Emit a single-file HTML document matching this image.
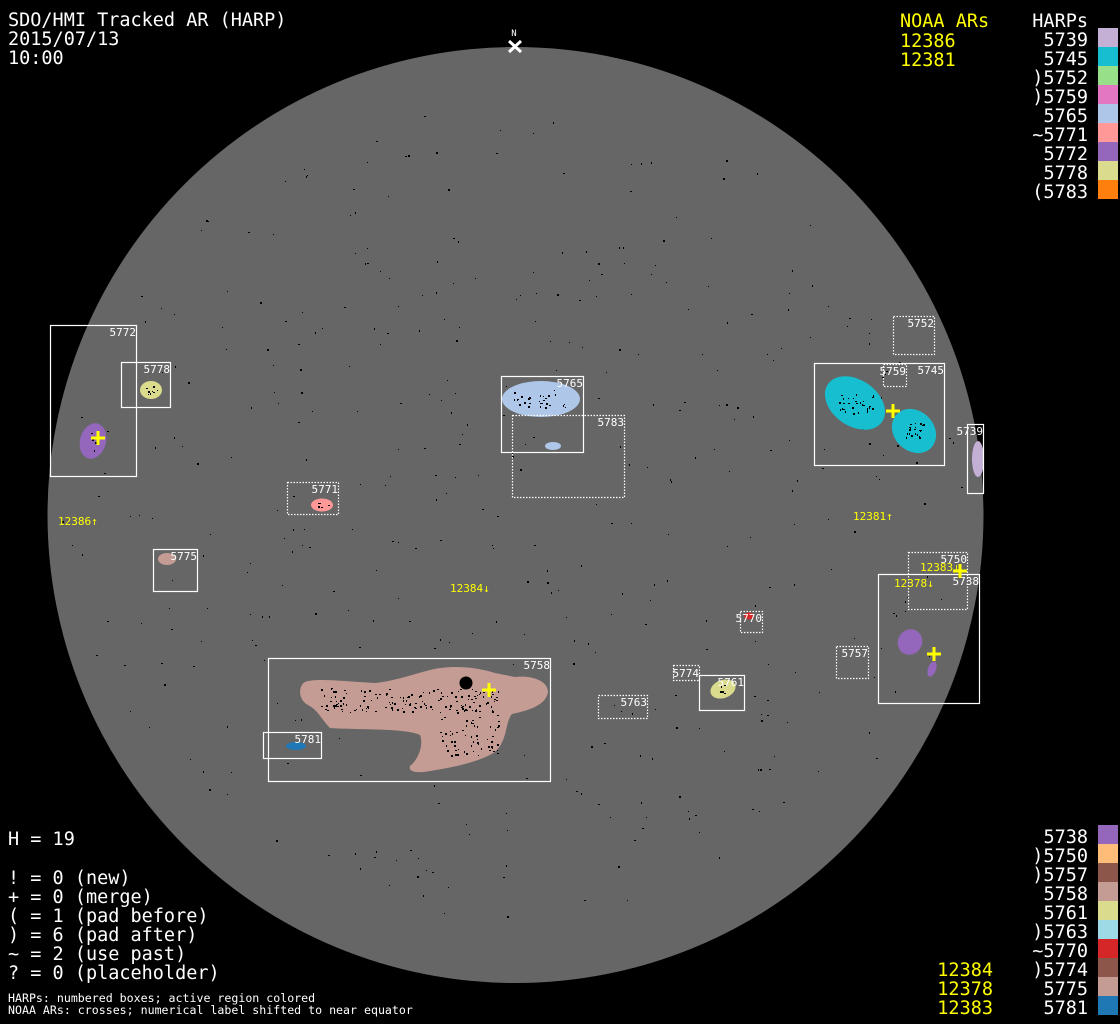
<!DOCTYPE html>
<html><head><meta charset="utf-8"><style>
html,body{margin:0;padding:0;background:#000;width:1120px;height:1024px;overflow:hidden}
svg{display:block}
text{font-family:"DejaVu Sans Mono","Liberation Mono",monospace}
.t{fill:#fff;font-size:18.5px}
.y{fill:#ff0;font-size:18.5px}
.l{fill:#fff;font-size:11px}
.s{fill:#ff0;font-size:11px}
.b{fill:none;stroke:#fff;stroke-width:1.2}
.d{fill:none;stroke:#fff;stroke-width:1.2;stroke-dasharray:1.5 1.5}
.c{stroke:#ff0;stroke-width:3}
</style></head><body>
<svg id="s" width="1120" height="1024" viewBox="0 0 1120 1024" xmlns="http://www.w3.org/2000/svg">
<rect width="1120" height="1024" fill="#000"/>
<circle cx="515.5" cy="515" r="468" fill="#666"/>
<g id="dots"></g>
<ellipse cx="93" cy="441" rx="13" ry="18" transform="rotate(15 93 441)" fill="#9467bd"/>
<ellipse cx="151" cy="390" rx="11" ry="9" fill="#dbdb8d"/>
<ellipse cx="322" cy="505" rx="11" ry="6.5" fill="#ff9896"/>
<ellipse cx="167" cy="559" rx="9" ry="6" fill="#c49c94"/>
<ellipse cx="541" cy="399" rx="39" ry="18" fill="#aec7e8"/>
<ellipse cx="553" cy="446" rx="8" ry="4" fill="#aec7e8"/>
<ellipse cx="855" cy="403" rx="33" ry="23" transform="rotate(35 855 403)" fill="#17becf"/>
<ellipse cx="914" cy="431" rx="24" ry="20" transform="rotate(45 914 431)" fill="#17becf"/>
<ellipse cx="978" cy="459" rx="6" ry="18" fill="#c5b0d5"/>
<ellipse cx="910" cy="642" rx="12" ry="13" transform="rotate(30 910 642)" fill="#9467bd"/>
<ellipse cx="932" cy="669" rx="4" ry="8" transform="rotate(20 932 669)" fill="#9467bd"/>
<ellipse cx="723" cy="689" rx="13" ry="9" transform="rotate(-20 723 689)" fill="#dbdb8d"/>
<ellipse cx="749" cy="616" rx="5" ry="3.5" fill="#d62728"/>
<ellipse cx="296" cy="746" rx="10" ry="4" fill="#1f77b4"/>
<path d="M305,682 C315,678 340,681 375,683 C395,681 410,675 430,670 C445,666 470,665 495,673 L515,677 C530,675 548,680 548,692 C546,705 530,710 512,714 C505,722 508,740 495,752 C480,762 450,768 430,771 C420,773 408,773 410,766 C418,760 424,745 420,735 C405,728 360,730 330,728 C322,720 318,710 308,705 C298,700 298,686 305,682 Z" fill="#c49c94"/>
<circle cx="466" cy="683" r="6.5" fill="#000"/>
<g id="bd"></g>
<rect class="b" x="50.5" y="325.5" width="86" height="151"/>
<rect class="b" x="121.5" y="362.5" width="49" height="45"/>
<rect class="d" x="287.5" y="482.5" width="51" height="32"/>
<rect class="b" x="153.5" y="549.5" width="44" height="42"/>
<rect class="b" x="501.5" y="376.5" width="82" height="76"/>
<rect class="d" x="512.5" y="415.5" width="112" height="82"/>
<rect class="d" x="893.5" y="316.5" width="41" height="38"/>
<rect class="b" x="814.5" y="363.5" width="130" height="102"/>
<rect class="d" x="883.5" y="364.5" width="23" height="22"/>
<rect class="b" x="967.5" y="424.5" width="16" height="69"/>
<rect class="d" x="908.5" y="552.5" width="59" height="57"/>
<rect class="b" x="878.5" y="574.5" width="101" height="129"/>
<rect class="d" x="836.5" y="646.5" width="32" height="32"/>
<rect class="b" x="268.5" y="658.5" width="282" height="123"/>
<rect class="b" x="263.5" y="732.5" width="58" height="26"/>
<rect class="d" x="598.5" y="695.5" width="49" height="23"/>
<rect class="d" x="673.5" y="665.5" width="26" height="15"/>
<rect class="b" x="699.5" y="675.5" width="45" height="35"/>
<rect class="d" x="740.5" y="611.5" width="22" height="21"/>
<g class="l" text-anchor="end">
<text x="136" y="336">5772</text><text x="170" y="373">5778</text><text x="338" y="493">5771</text>
<text x="197" y="560">5775</text><text x="583" y="387">5765</text><text x="624" y="426">5783</text>
<text x="934" y="327">5752</text><text x="944" y="374">5745</text><text x="906" y="375">5759</text>
<text x="983" y="435">5739</text><text x="967" y="563">5750</text><text x="979" y="585">5738</text>
<text x="868" y="657">5757</text><text x="550" y="669">5758</text><text x="321" y="743">5781</text>
<text x="647" y="706">5763</text><text x="699" y="677">5774</text><text x="744" y="686">5761</text>
<text x="762" y="622">5770</text>
</g>
<g class="s">
<text x="58" y="525">12386↑</text><text x="853" y="520">12381↑</text><text x="450" y="592">12384↓</text>
<text x="920" y="571">12383↓</text><text x="894" y="587">12378↓</text>
</g>
<g class="c">
<path d="M91,438h14M98,431v14"/><path d="M886,411h14M893,404v14"/><path d="M482,690h14M489,683v14"/>
<path d="M927,654h14M934,647v14"/><path d="M953,571h14M960,564v14"/>
</g>
<text x="514" y="36" fill="#fff" font-size="9" text-anchor="middle">N</text>
<path d="M509,41l12,11M521,41l-12,11" stroke="#fff" stroke-width="3"/>
<text class="t" x="8" y="26">SDO/HMI Tracked AR (HARP)</text>
<text class="t" x="8" y="45">2015/07/13</text>
<text class="t" x="8" y="64">10:00</text>
<text class="y" x="900" y="27">NOAA ARs</text>
<text class="y" x="900" y="47">12386</text>
<text class="y" x="900" y="66">12381</text>
<g class="t" text-anchor="end">
<text x="1088" y="27">HARPs</text>
<text x="1088" y="46">5739</text><text x="1088" y="65">5745</text><text x="1088" y="84">)5752</text>
<text x="1088" y="103">)5759</text><text x="1088" y="122">5765</text><text x="1088" y="141">~5771</text>
<text x="1088" y="160">5772</text><text x="1088" y="179">5778</text><text x="1088" y="198">(5783</text>
</g>
<rect x="1098" y="28" width="20" height="19" fill="#c5b0d5"/><rect x="1098" y="47" width="20" height="19" fill="#17becf"/>
<rect x="1098" y="66" width="20" height="19" fill="#98df8a"/><rect x="1098" y="85" width="20" height="19" fill="#e377c2"/>
<rect x="1098" y="104" width="20" height="19" fill="#aec7e8"/><rect x="1098" y="123" width="20" height="19" fill="#ff9896"/>
<rect x="1098" y="142" width="20" height="19" fill="#9467bd"/><rect x="1098" y="161" width="20" height="19" fill="#dbdb8d"/>
<rect x="1098" y="180" width="20" height="19" fill="#ff7f0e"/>
<g class="t" text-anchor="end">
<text x="1088" y="843">5738</text><text x="1088" y="862">)5750</text><text x="1088" y="881">)5757</text>
<text x="1088" y="900">5758</text><text x="1088" y="919">5761</text><text x="1088" y="938">)5763</text>
<text x="1088" y="957">~5770</text><text x="1088" y="976">)5774</text><text x="1088" y="995">5775</text>
<text x="1088" y="1014">5781</text>
</g>
<g class="y" text-anchor="end">
<text x="993" y="976">12384</text><text x="993" y="995">12378</text><text x="993" y="1014">12383</text>
</g>
<rect x="1098" y="825" width="20" height="19" fill="#9467bd"/><rect x="1098" y="844" width="20" height="19" fill="#ffbb78"/>
<rect x="1098" y="863" width="20" height="19" fill="#8c564b"/><rect x="1098" y="882" width="20" height="19" fill="#c49c94"/>
<rect x="1098" y="901" width="20" height="19" fill="#dbdb8d"/><rect x="1098" y="920" width="20" height="19" fill="#9edae5"/>
<rect x="1098" y="939" width="20" height="19" fill="#d62728"/><rect x="1098" y="958" width="20" height="19" fill="#8c564b"/>
<rect x="1098" y="977" width="20" height="19" fill="#c49c94"/><rect x="1098" y="996" width="20" height="19" fill="#1f77b4"/>
<text class="t" x="8" y="845">H = 19</text>
<text class="t" x="8" y="884">! = 0 (new)</text>
<text class="t" x="8" y="903">+ = 0 (merge)</text>
<text class="t" x="8" y="922">( = 1 (pad before)</text>
<text class="t" x="8" y="941">) = 6 (pad after)</text>
<text class="t" x="8" y="960">~ = 2 (use past)</text>
<text class="t" x="8" y="979">? = 0 (placeholder)</text>
<text x="8" y="1002" fill="#fff" font-size="11.6">HARPs: numbered boxes; active region colored</text>
<text x="8" y="1014" fill="#fff" font-size="11.6">NOAA ARs: crosses; numerical label shifted to near equator</text>
</svg>
<script>
(function(){
var seed=12345;function r(){seed=(seed*1103515245+12345)%2147483648;return seed/2147483648;}
var g=document.getElementById("dots"),h="";
for(var i=0;i<420;i++){var a=r()*6.283,d=Math.sqrt(r())*455;var x=515+d*Math.cos(a),y=515+d*Math.sin(a)*0.9;
h+='<rect x="'+x.toFixed(0)+'" y="'+y.toFixed(0)+'" width="'+(r()<0.7?1:2)+'" height="'+(r()<0.7?1:2)+'" fill="#000"/>';}
g.innerHTML=h;
var b=document.getElementById("bd"),k="";
var areas=[[93,441,5,10,8],[151,390,7,4,8],[541,399,28,9,30],[855,403,18,10,30],[914,431,10,8,25],[410,700,90,12,150],[470,735,30,20,60],[322,505,6,3,6],[723,689,6,4,5]];
areas.forEach(function(A){for(var j=0;j<A[4];j++){var x=A[0]+(r()*2-1)*A[2],y=A[1]+(r()*2-1)*A[3];k+='<rect x="'+x.toFixed(0)+'" y="'+y.toFixed(0)+'" width="'+(1+Math.floor(r()*2))+'" height="'+(1+Math.floor(r()*2))+'" fill="#000"/>';}});
b.innerHTML=k;
})();
</script>
</body></html>
